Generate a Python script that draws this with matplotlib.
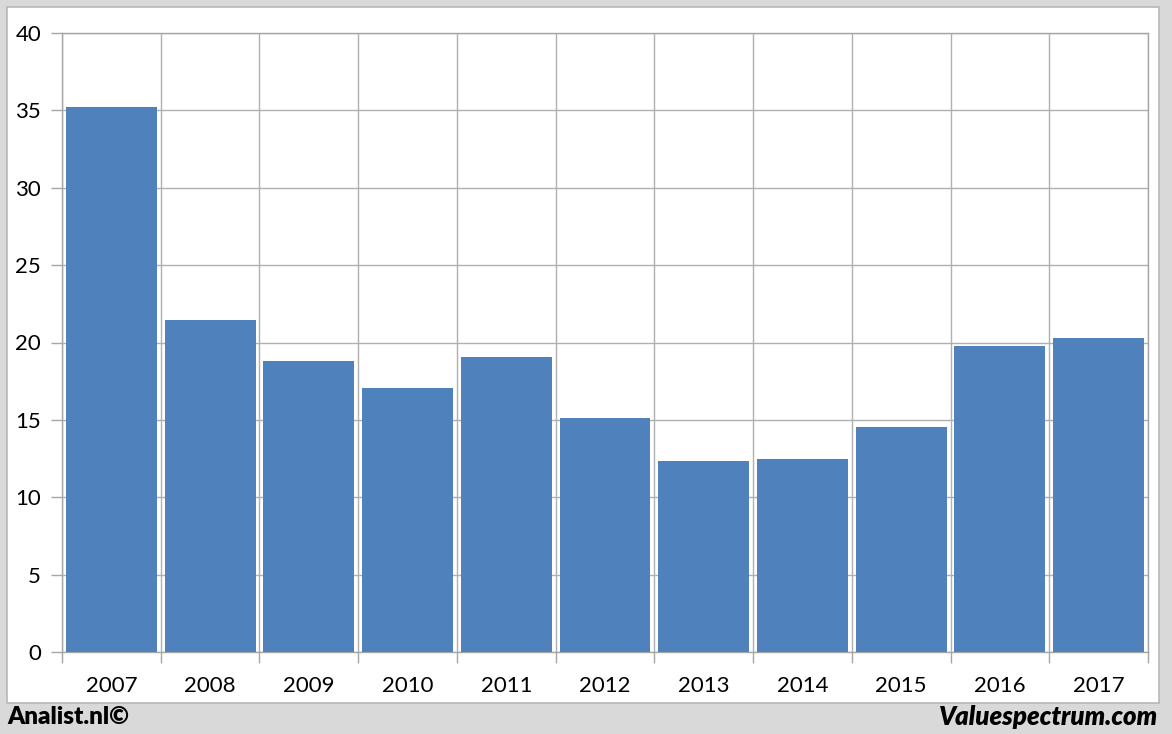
import matplotlib.pyplot as plt
from matplotlib.patches import Rectangle
import numpy as np

years = ['2007', '2008', '2009', '2010', '2011', '2012', '2013', '2014', '2015', '2016', '2017']
values = [35.2, 21.45, 18.8, 17.06, 19.06, 15.12, 12.34, 12.47, 14.54, 19.77, 20.29]
yticks = [0, 5, 10, 15, 20, 25, 30, 35, 40]

plt.rcParams['font.family'] = ['Lato', 'DejaVu Sans']

fig = plt.figure(figsize=(11.72, 7.34), dpi=100)
fig.patch.set_facecolor('#d9d9d9')
# white panel behind the chart
fig.patches.append(Rectangle((7 / 1172, 31 / 734), 1152 / 1172, 696 / 734,
                             transform=fig.transFigure, facecolor='white',
                             edgecolor='#b8b8b8', linewidth=1.2, zorder=-10))

ax = fig.add_axes([62 / 1172, 82 / 734, 1086 / 1172, 619 / 734])
ax.set_facecolor('white')
x = np.arange(len(years))
ax.bar(x, values, width=0.92, color='#4f81bd', zorder=3)

ax.set_xlim(-0.5, len(years) - 0.5)
ax.set_ylim(0, 40)
ax.set_yticks(yticks)
ax.set_yticklabels([str(v) for v in yticks], fontsize=16)
ax.set_xticks(x)
ax.set_xticklabels(years, fontsize=16)
ax.set_xticks(np.arange(-0.5, len(years)), minor=True)

ax.tick_params(axis='x', which='major', length=0, pad=17)
ax.tick_params(axis='x', which='minor', length=8, color='#a6a6a6', width=1)
ax.tick_params(axis='y', length=8, color='#a6a6a6', width=1, pad=7)

ax.grid(True, axis='y', color='#b0b0b0', linewidth=1, zorder=0)
ax.grid(True, axis='x', which='minor', color='#b0b0b0', linewidth=1, zorder=0)
for s in ax.spines.values():
    s.set_color('#a6a6a6')
    s.set_linewidth(1)
ax.set_axisbelow(True)

fig.text(7 / 1172, 1 - 717 / 734, 'Analist.nl©', fontsize=17.5, fontweight='heavy',
         va='center', ha='left')
fig.text(1158 / 1172, 1 - 717 / 734, 'Valuespectrum.com', fontsize=18.5, fontweight='heavy',
         style='italic', va='center', ha='right')

fig.savefig('out.png', dpi=100, facecolor=fig.get_facecolor())
